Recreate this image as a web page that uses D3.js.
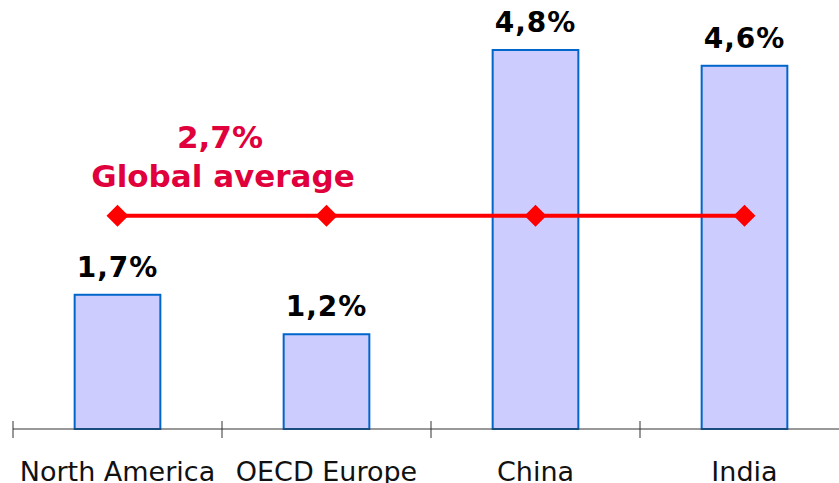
<!DOCTYPE html>
<html>
<head>
<meta charset="utf-8">
<script src="https://cdn.jsdelivr.net/npm/d3@7/dist/d3.min.js"></script>
<style>
  html, body { margin: 0; padding: 0; background: #fff; }
  svg { display: block; }
</style>
</head>
<body>
<svg id="chart" width="839" height="483"></svg>
<script>
const categories = ["North America", "OECD Europe", "China", "India"];
const values = [1.7, 1.2, 4.8, 4.6];
const valueLabels = ["1,7%", "1,2%", "4,8%", "4,6%"];
const globalAverage = 2.7;
const averageLabel = ["2,7%", "Global average"];

const svg = d3.select("#chart");
const baseline = 429;

const x = d3.scaleBand()
  .domain(categories)
  .range([13, 849])
  .paddingInner(0.59)
  .paddingOuter(0.295);

const y = d3.scaleLinear()
  .domain([0, 5])
  .range([baseline, baseline - 5 * 78.96]);

// bars
svg.append("g").selectAll("rect")
  .data(categories)
  .join("rect")
  .attr("x", d => x(d))
  .attr("y", (d, i) => y(values[i]))
  .attr("width", x.bandwidth())
  .attr("height", (d, i) => y(0) - y(values[i]))
  .attr("fill", "#CCCCFF")
  .attr("stroke", "#0066CC")
  .attr("stroke-width", 2);

// value labels
svg.append("g").selectAll("text")
  .data(categories)
  .join("text")
  .attr("x", d => x(d) + x.bandwidth() / 2)
  .attr("y", (d, i) => y(values[i]) - 18)
  .attr("text-anchor", "middle")
  .attr("font-family", "DejaVu Sans, Verdana, sans-serif")
  .attr("font-weight", "bold")
  .attr("font-size", 28)
  .attr("letter-spacing", "1px")
  .attr("fill", "#000")
  .text((d, i) => valueLabels[i]);

// axis
const axis = svg.append("g");
axis.append("line")
  .attr("x1", x.range()[0]).attr("x2", 839)
  .attr("y1", y(0)).attr("y2", y(0))
  .attr("stroke", "#333").attr("stroke-width", 1);
const step = x.step();
const boundaries = categories.map(d => x(d) - x.paddingOuter() * step);
axis.selectAll("line.tick")
  .data(boundaries)
  .join("line")
  .attr("class", "tick")
  .attr("x1", d => d).attr("x2", d => d)
  .attr("y1", y(0) - 8).attr("y2", y(0) + 9)
  .attr("stroke", "#333").attr("stroke-width", 1);
axis.selectAll("text")
  .data(categories)
  .join("text")
  .attr("x", d => x(d) + x.bandwidth() / 2)
  .attr("y", 481)
  .attr("text-anchor", "middle")
  .attr("font-family", "DejaVu Sans, Verdana, sans-serif")
  .attr("font-size", 27)
  .attr("fill", "#111")
  .text(d => d);

// global average line
const cx = d => x(d) + x.bandwidth() / 2;
svg.append("line")
  .attr("x1", cx(categories[0]))
  .attr("x2", cx(categories[categories.length - 1]))
  .attr("y1", y(globalAverage)).attr("y2", y(globalAverage))
  .attr("stroke", "#FF0000").attr("stroke-width", 4);
svg.append("g").selectAll("path")
  .data(categories)
  .join("path")
  .attr("transform", d => `translate(${cx(d)},${y(globalAverage)})`)
  .attr("d", "M0,-11L11,0L0,11L-11,0Z")
  .attr("fill", "#FF0000");

// global average label
const avgText = svg.append("text")
  .attr("text-anchor", "middle")
  .attr("font-family", "DejaVu Sans, Verdana, sans-serif")
  .attr("font-weight", "bold")
  .attr("font-size", 31)
  .attr("fill", "#E0003C");
avgText.append("tspan").attr("x", 220).attr("y", 148).text(averageLabel[0]);
avgText.append("tspan").attr("x", 223).attr("y", 187).text(averageLabel[1]);
</script>
</body>
</html>
